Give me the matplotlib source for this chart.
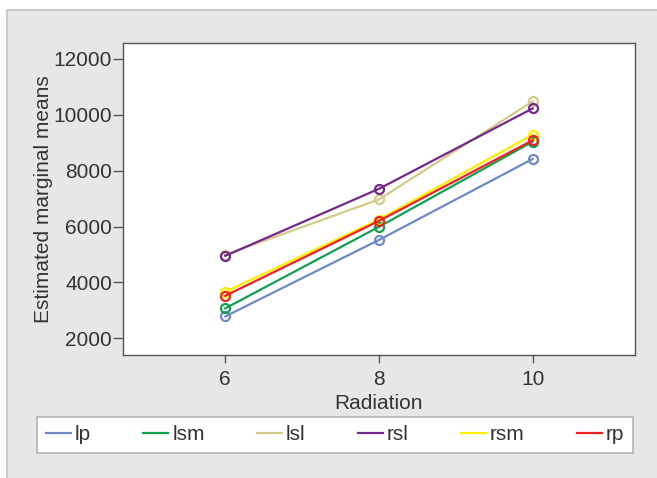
import matplotlib.pyplot as plt
from matplotlib.patches import Rectangle

plt.rcParams['font.family'] = ['Liberation Sans', 'DejaVu Sans']

# valeurs
radiation = [6, 8, 10]
groupes = ["lp", "lsm", "lsl", "rsl", "rsm", "rp"]
lp = [2780, 5520, 8420]
lsm = [3070, 5990, 9040]
lsl = [4990, 6970, 10480]
rsl = [4950, 7350, 10230]
rsm = [3660, 6250, 9290]
rp = [3520, 6200, 9090]
couleurs = ["#7088c8", "#10a050", "#d2cc88", "#74288c", "#ffee00", "#ee2222"]

fig = plt.figure(figsize=(6.57, 4.78), dpi=100)
fig.patch.set_facecolor("white")

# fond gris du panneau
fond = Rectangle((7 / 657, -0.01), 1, 1.01 - 10 / 478, transform=fig.transFigure,
                 facecolor="#e6e7e9", edgecolor="#c4c4c4", linewidth=1.2, zorder=-10)
fig.patches.append(fond)

ax = fig.add_axes([123 / 657, 1 - 355 / 478, (635 - 123) / 657, (355 - 43) / 478])
ax.set_facecolor("white")

for nom, serie, c in zip(groupes, [lp, lsm, lsl, rsl, rsm, rp], couleurs):
    ax.plot(radiation, serie, color=c, linewidth=1.6, marker="o", markersize=6.5,
            markerfacecolor="none", markeredgewidth=1.6, label=nom)

ax.set_xlim(4.67, 11.33)
ax.set_ylim(1400, 12570)
ax.set_xticks([6, 8, 10])
ax.set_yticks([2000, 4000, 6000, 8000, 10000, 12000])

for s in ax.spines.values():
    s.set_color("#555555")
    s.set_linewidth(1.0)

ax.tick_params(axis="y", direction="out", length=7, width=1.0, color="#555555",
               labelsize=15, labelcolor="#333333", pad=1)
ax.tick_params(axis="x", direction="out", length=5.5, width=1.0, color="#555555",
               labelsize=15, labelcolor="#333333", pad=5)

ax.set_xlabel("Radiation", fontsize=15, color="#333333", labelpad=4)
ax.set_ylabel("Estimated marginal means", fontsize=15, color="#333333", labelpad=0)

leg = fig.legend(loc="center", bbox_to_anchor=(335 / 657, 1 - 435 / 478), ncol=6,
                 fontsize=15, frameon=True, fancybox=False, framealpha=1,
                 handlelength=1.2, handletextpad=0.2, columnspacing=2.5, borderpad=0.4)
leg.get_frame().set_edgecolor("#b4b4b4")
leg.get_frame().set_facecolor("white")
leg.get_frame().set_linewidth(1.2)
for t in leg.get_texts():
    t.set_color("#333333")
for h in leg.legend_handles:
    h.set_marker("")

fig.savefig("out.png", dpi=100)
